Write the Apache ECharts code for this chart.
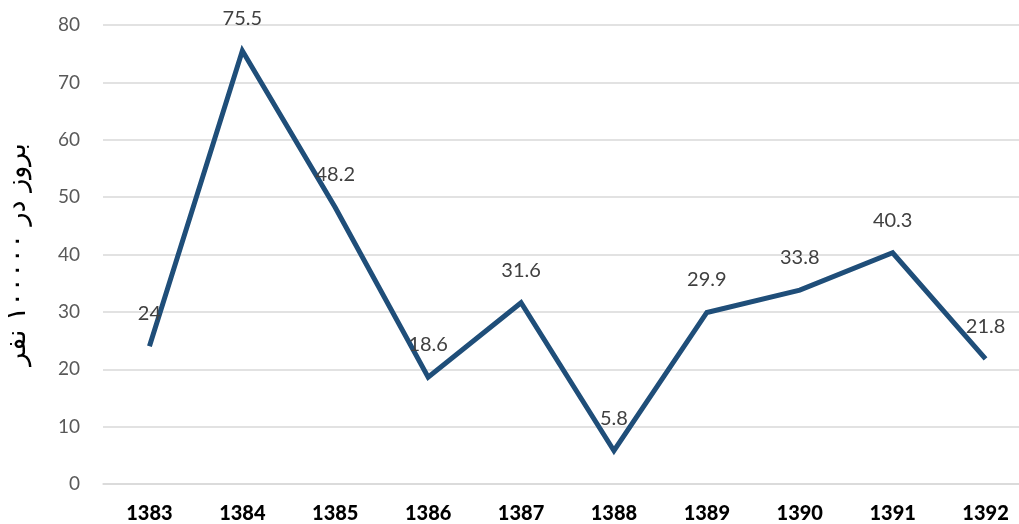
<!DOCTYPE html>
<html><head><meta charset="utf-8">
<script src="https://cdn.jsdelivr.net/npm/echarts@6/dist/echarts.min.js"></script>
<style>html,body{margin:0;padding:0;background:#fff}#c{width:1019px;height:524px}</style>
</head><body><div id="c"></div>
<script>
var years = ['1383','1384','1385','1386','1387','1388','1389','1390','1391','1392'];
var values = [24, 75.5, 48.2, 18.6, 31.6, 5.8, 29.9, 33.8, 40.3, 21.8];
var yTicks = [0, 10, 20, 30, 40, 50, 60, 70, 80];
var yTitle = 'بروز در ۱۰۰۰۰۰ نفر';

var chart = echarts.init(document.getElementById('c'));
chart.setOption({
  animation: false,
  grid: {left: 103, top: 25, right: -13, bottom: 40, containLabel: false, outerBoundsMode: 'none'},
  xAxis: {
    type: 'category', data: years, boundaryGap: true,
    axisLine: {show: true, lineStyle: {color: '#d9d9d9', width: 1.5}},
    axisTick: {show: false},
    axisLabel: {color: '#000', fontFamily: 'Lato', fontWeight: 900, fontSize: 20, margin: 20}
  },
  yAxis: {
    type: 'value', min: yTicks[0], max: yTicks[yTicks.length-1], interval: 10,
    name: yTitle, nameLocation: 'middle', nameRotate: 90, nameGap: 72,
    nameTextStyle: {color: '#000', fontFamily: 'DejaVu Sans', fontSize: 27},
    axisLine: {show: false}, axisTick: {show: false},
    axisLabel: {color: '#595959', fontFamily: 'Lato', fontSize: 19, margin: 23},
    splitLine: {lineStyle: {color: '#d9d9d9', width: 1.5}}
  },
  series: [{
    type: 'line', data: values, showSymbol: true, symbol: 'circle', symbolSize: 1,
    itemStyle: {color: '#1f4e79', opacity: 0},
    lineStyle: {color: '#1f4e79', width: 5, join: 'miter'},
    label: {show: true, position: 'top', distance: 22, color: '#404040', fontFamily: 'Lato', fontSize: 20, opacity: 1}
  }]
});
</script>
</body></html>
